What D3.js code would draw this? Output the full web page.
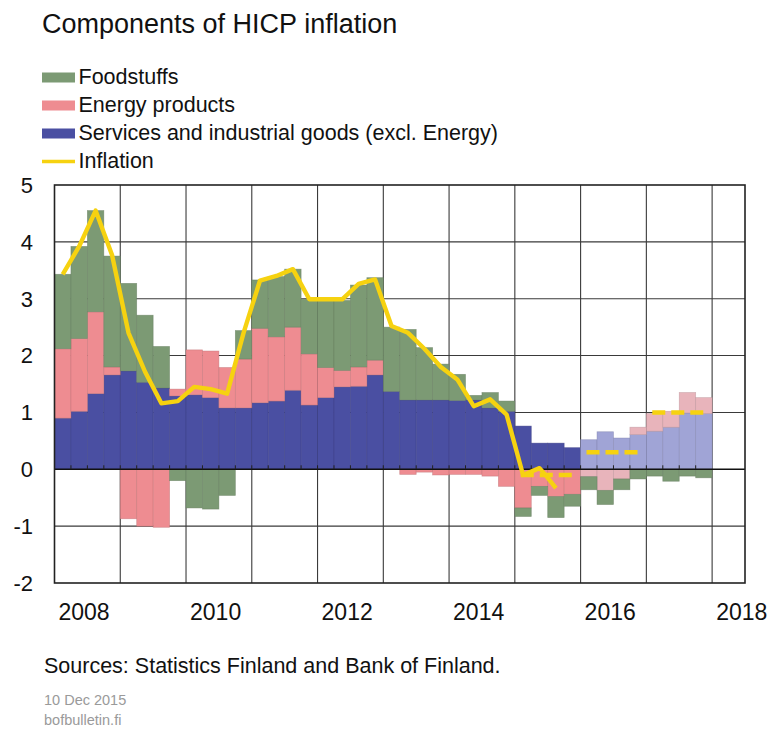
<!DOCTYPE html>
<html><head><meta charset="utf-8">
<script src="https://cdn.jsdelivr.net/npm/d3@7"></script>
<style>body{margin:0;background:#fff}svg{display:block;font-family:"Liberation Sans",Arial,Helvetica,sans-serif}</style>
</head><body><svg id="chart" width="771" height="729"></svg>
<script>
const quarters = ["2008Q1","2008Q2","2008Q3","2008Q4","2009Q1","2009Q2","2009Q3","2009Q4",
"2010Q1","2010Q2","2010Q3","2010Q4","2011Q1","2011Q2","2011Q3","2011Q4",
"2012Q1","2012Q2","2012Q3","2012Q4","2013Q1","2013Q2","2013Q3","2013Q4",
"2014Q1","2014Q2","2014Q3","2014Q4","2015Q1","2015Q2","2015Q3","2015Q4",
"2016Q1","2016Q2","2016Q3","2016Q4","2017Q1","2017Q2","2017Q3","2017Q4"];
const services = [0.90,1.02,1.33,1.66,1.73,1.53,1.43,1.29,1.31,1.26,1.08,1.08,1.17,1.20,1.39,1.13,1.26,1.45,1.46,1.66,1.37,1.22,1.22,1.22,1.21,1.22,1.08,1.02,0.76,0.46,0.46,0.38,0.52,0.66,0.55,0.61,0.67,0.74,0.99,0.98];
const energy = [1.22,1.28,1.44,0.14,-0.87,-1.00,-1.02,0.12,0.79,0.82,0.71,0.86,1.31,1.13,1.11,0.90,0.53,0.29,0.34,0.26,0,-0.09,-0.05,-0.10,-0.09,-0.09,-0.12,-0.30,-0.68,-0.30,-0.48,-0.44,-0.13,-0.37,-0.17,0.13,0.31,0.28,0.36,0.28];
const food = [1.31,1.62,1.78,1.95,1.54,1.18,0.73,-0.20,-0.68,-0.70,-0.46,0.50,0.85,1.06,1.02,0.96,1.20,1.23,1.44,1.45,1.13,1.24,0.92,0.63,0.46,0.08,0.27,0.18,-0.15,-0.16,-0.37,-0.21,-0.23,-0.25,-0.19,-0.17,-0.12,-0.21,-0.12,-0.15];
const forecastStart = "2016Q1";
const inflationPeriods = ["2008Q1","2008Q2","2008Q3","2008Q4","2009Q1","2009Q2","2009Q3","2009Q4",
"2010Q1","2010Q2","2010Q3","2010Q4","2011Q1","2011Q2","2011Q3","2011Q4",
"2012Q1","2012Q2","2012Q3","2012Q4","2013Q1","2013Q2","2013Q3","2013Q4",
"2014Q1","2014Q2","2014Q3","2014Q4","2015Q1","2015Q2","2015M06","2015Q3"];
const inflation = [3.43,3.92,4.55,3.77,2.40,1.72,1.16,1.20,1.45,1.41,1.33,2.40,3.32,3.40,3.52,2.99,2.99,2.99,3.26,3.34,2.52,2.40,2.12,1.80,1.58,1.11,1.23,0.96,-0.10,0.02,-0.09,-0.33];
const forecastYears = [2015, 2016, 2017];
const forecastInflation = [-0.1, 0.3, 1.0];
const yTicks = [-2,-1,0,1,2,3,4,5];
const xTickYears = [2008,2010,2012,2014,2016,2018];
const gridYears = [2009,2010,2011,2012,2013,2014,2015,2016,2017,2018];
const seriesNames = ["Foodstuffs","Energy products","Services and industrial goods (excl. Energy)","Inflation"];

const C = {food:"#7c9a74", energy:"#ee8c91", services:"#4a4fa2", energyF:"#e8b4bb", servicesF:"#a0a4d6", line:"#f6d210"};

function periodTime(p){
  const y = +p.slice(0,4);
  if (p[4]==="Q") return y + (+p.slice(5)-1)/4 + 0.125;
  if (p[4]==="M") return y + (+p.slice(5)-1)/12 + 1/24;
  return y;
}
function quarterStart(p){ return +p.slice(0,4) + (+p.slice(5)-1)/4; }

const svg = d3.select("#chart");
const L=54.5, R=745, T=185, B=583;
const x = d3.scaleLinear().domain([2008, 2018.5]).range([L, R]);
const y = d3.scaleLinear().domain([-2, 5]).range([B, T]);

// title
svg.append("text").attr("x",42).attr("y",33).attr("font-size",27).attr("fill","#111").text("Components of HICP inflation");

// legend
const legColors = [C.food, C.energy, C.services];
seriesNames.forEach((n,i)=>{
  const by = 84 + i*28;
  if (i<3) svg.append("rect").attr("x",42).attr("y",by-11.5).attr("width",33).attr("height",10).attr("fill",legColors[i]);
  else svg.append("line").attr("x1",42).attr("x2",75).attr("y1",by-6.5).attr("y2",by-6.5).attr("stroke",C.line).attr("stroke-width",3.5);
  svg.append("text").attr("x",78.5).attr("y",by).attr("font-size",21.5).attr("fill","#111").text(n);
});

// grid
const g = svg.append("g");
g.selectAll(".hg").data(yTicks.filter(v=>v>-2&&v<5&&v!==0)).join("line")
  .attr("x1",L).attr("x2",R).attr("y1",d=>y(d)).attr("y2",d=>y(d)).attr("stroke","#3a3a3a").attr("stroke-width",1.1);
g.selectAll(".vg").data(gridYears).join("line")
  .attr("x1",d=>x(d)).attr("x2",d=>x(d)).attr("y1",T).attr("y2",B).attr("stroke","#3a3a3a").attr("stroke-width",1.1);

// bars
const rows = quarters.map((q,i)=>({q, services:services[i], energy:energy[i], food:food[i]}));
const keys = ["services","energy","food"];
const stack = d3.stack().keys(keys).offset(d3.stackOffsetDiverging)(rows);
const isF = q => q >= forecastStart;
const colorFor = (k,q) => k==="food" ? C.food : (isF(q) ? (k==="energy"?C.energyF:C.servicesF) : C[k]);
stack.forEach(s=>{
  svg.append("g").selectAll("rect").data(s).join("rect")
    .attr("x",d=>x(quarterStart(d.data.q)))
    .attr("width",d=>x(quarterStart(d.data.q)+0.25)-x(quarterStart(d.data.q)))
    .attr("y",d=>y(Math.max(d[0],d[1])))
    .attr("height",d=>Math.abs(y(d[0])-y(d[1])))
    .attr("fill",d=>colorFor(s.key,d.data.q))
    .attr("stroke",d=>d3.color(colorFor(s.key,d.data.q)).darker(0.6))
    .attr("stroke-width",0.7).attr("stroke-opacity",0.6);
});

// zero axis and quarter ticks
svg.append("line").attr("x1",L).attr("x2",R).attr("y1",y(0)).attr("y2",y(0)).attr("stroke","#111").attr("stroke-width",1.5);
svg.append("g").selectAll("line").data(quarters).join("line")
  .attr("x1",d=>x(quarterStart(d))).attr("x2",d=>x(quarterStart(d)))
  .attr("y1",y(0)).attr("y2",y(0)-4).attr("stroke","#222").attr("stroke-width",1);

// border
svg.append("rect").attr("x",L).attr("y",T).attr("width",R-L).attr("height",B-T).attr("fill","none").attr("stroke","#222").attr("stroke-width",1.6);

// forecast dashed
svg.append("g").selectAll("line").data(forecastYears.map((yr,i)=>({yr,v:forecastInflation[i]}))).join("line")
  .attr("x1",d=>x(d.yr+0.09)).attr("x2",d=>x(d.yr+0.9)).attr("y1",d=>y(d.v)).attr("y2",d=>y(d.v))
  .attr("stroke",C.line).attr("stroke-width",4.5).attr("stroke-dasharray","13,6");

// inflation line
const lineData = inflationPeriods.map((p,i)=>({t:periodTime(p), v:inflation[i]}));
svg.append("path").datum(lineData)
  .attr("d", d3.line().x(d=>x(d.t)).y(d=>y(d.v)))
  .attr("fill","none").attr("stroke",C.line).attr("stroke-width",4.4).attr("stroke-linejoin","round");

// axis labels
svg.append("g").selectAll("text").data(yTicks).join("text")
  .attr("x",33).attr("y",d=>y(d)).attr("dy","0.36em").attr("text-anchor","end").attr("font-size",22).attr("fill","#111").text(d=>d);
svg.append("g").selectAll("text").data(xTickYears).join("text")
  .attr("x",d=>x(d+0.45)).attr("y",620).attr("text-anchor","middle").attr("font-size",23).attr("fill","#111").text(d=>d);

// footer
svg.append("text").attr("x",44).attr("y",673).attr("font-size",21.5).attr("fill","#111").text("Sources: Statistics Finland and Bank of Finland.");
svg.append("text").attr("x",44).attr("y",705).attr("font-size",14.5).attr("fill","#9a9a9a").text("10 Dec 2015");
svg.append("text").attr("x",44).attr("y",725).attr("font-size",14.5).attr("fill","#9a9a9a").text("bofbulletin.fi");
</script></body></html>
